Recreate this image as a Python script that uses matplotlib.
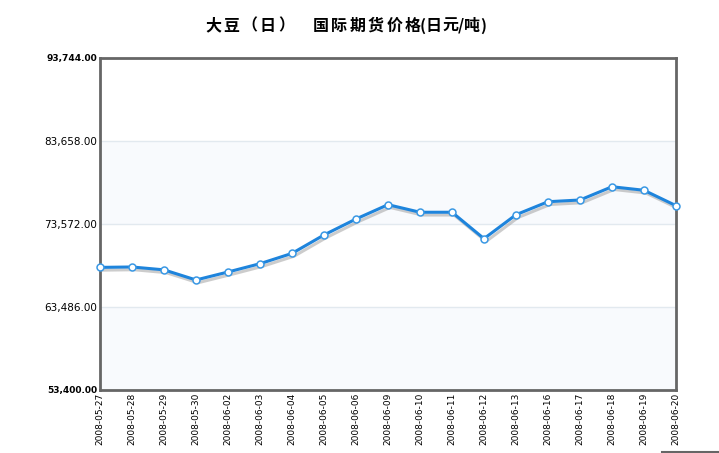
import matplotlib
matplotlib.use('Agg')
import matplotlib.pyplot as plt
import matplotlib.patheffects as pe
from matplotlib.lines import Line2D

plt.rcParams['font.family'] = ['Noto Sans CJK SC', 'DejaVu Sans']

dates = ['2008-05-27', '2008-05-28', '2008-05-29', '2008-05-30', '2008-06-02',
         '2008-06-03', '2008-06-04', '2008-06-05', '2008-06-06', '2008-06-09',
         '2008-06-10', '2008-06-11', '2008-06-12', '2008-06-13', '2008-06-16',
         '2008-06-17', '2008-06-18', '2008-06-19', '2008-06-20']
prices = [68300, 68350, 68000, 66770, 67740, 68750, 70000, 72240, 74180, 75920,
          75000, 75000, 71790, 74700, 76280, 76490, 78100, 77670, 75800]
yticks = [53400, 63486, 73572, 83658, 93744]
title_parts = ['大豆（日）', '国际期货价格', '(日元/吨)']

W, H = 719, 453
fig = plt.figure(figsize=(W / 100, H / 100), dpi=100)
ax = fig.add_axes([100 / W, (H - 390) / H, 576 / W, 332 / H])

x = list(range(len(dates)))
ax.set_xlim(0, len(dates) - 1)
ax.set_ylim(yticks[0], yticks[-1])

# alternating bands
for i in range(len(yticks) - 1):
    if i % 2 == 0:
        ax.axhspan(yticks[i], yticks[i + 1], color='#f8fafd', zorder=0, lw=0)
for v in yticks[1:-1]:
    ax.axhline(v, color='#e2e9ef', lw=1, zorder=1)

ax.plot(x, prices, color='#1e84dc', lw=2.2, zorder=3, solid_joinstyle='round',
        path_effects=[pe.SimpleLineShadow(offset=(1.5, -2), shadow_color='#9a9a9a', alpha=0.5),
                      pe.Normal()])
ax.plot(x, prices, ls='none', marker='o', ms=5, mfc='white', mec='#3a98e4', mew=1.1,
        zorder=4, clip_on=False)

for s in ax.spines.values():
    s.set_color('#666666')
    s.set_linewidth(2)

ax.set_xticks(x)
ax.set_xticklabels(dates, rotation=90, fontsize=6.5, family='DejaVu Sans', va='top')
ax.set_yticks(yticks)
ax.set_yticklabels(['{:,.2f}'.format(v) for v in yticks], fontsize=7.5, family='DejaVu Sans')
for lbl in (ax.get_yticklabels()[0], ax.get_yticklabels()[-1]):
    lbl.set_fontweight('bold')
    lbl.set_fontsize(6.5)
ax.tick_params(length=0, pad=2)

# title, drawn char by char to get the spaced look
renderer = fig.canvas.get_renderer()
for part, start, gap in zip(title_parts, [205, 313, 420], [2.3, 2.3, 0]):
    xpos = start
    for ch in part:
        t = fig.text(xpos / W, 1 - 25.5 / H, ch, ha='left', va='center', fontsize=11.5,
                     fontweight='bold', family=['Noto Sans CJK SC', 'DejaVu Sans'])
        xpos += t.get_window_extent(renderer).width + gap

fig.add_artist(Line2D([662 / W, 1], [1.5 / H, 1.5 / H], color='#666666', lw=1.5))

fig.savefig('out.png', dpi=100)
